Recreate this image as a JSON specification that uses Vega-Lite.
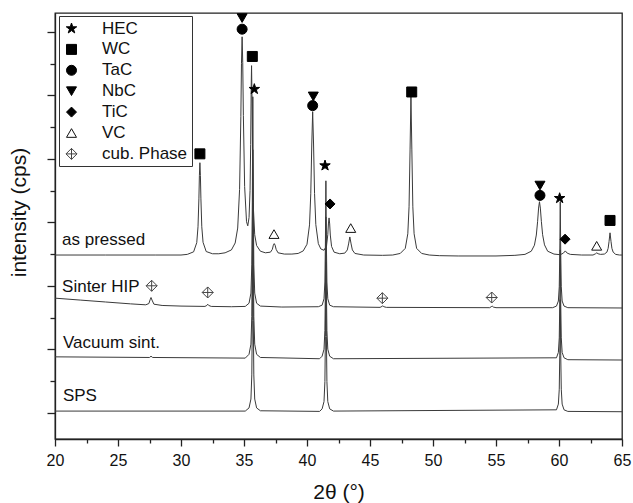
{
  "$schema": "https://vega.github.io/schema/vega-lite/v6.json",
  "width": 567,
  "height": 426,
  "autosize": {"type": "none"},
  "padding": {"left": 55, "top": 13, "right": 11, "bottom": 64},
  "config": {
    "font": "Liberation Sans",
    "view": {"stroke": "#222", "strokeWidth": 1.3},
    "axis": {"domainColor": "#222", "domainWidth": 1.3, "tickColor": "#222", "tickWidth": 1.3, "labelColor": "#111", "titleColor": "#111", "grid": false, "titleFontWeight": "normal", "labelFont": "Liberation Sans", "titleFont": "Liberation Sans"},
    "legend": {"title": null, "orient": "none", "legendX": 4, "legendY": 3, "padding": 4, "strokeColor": "#333", "fillColor": "#fff",
      "labelFontSize": 17, "labelFont": "Liberation Sans", "labelColor": "#111", "symbolSize": 100, "symbolStrokeWidth": 1,
      "symbolOffset": 0, "labelOffset": 22, "rowPadding": 2.9, "labelLimit": 200}
  },
  "datasets": {
    "xrd": [
      {"s":"a","x":20,"y":4.97},{"s":"a","x":24,"y":4.97},{"s":"a","x":28,"y":4.97},{"s":"a","x":30,"y":4.97},{"s":"a","x":30.5,"y":4.99},
      {"s":"a","x":31.0,"y":5.07},{"s":"a","x":31.25,"y":5.36},{"s":"a","x":31.35,"y":5.86},{"s":"a","x":31.42,"y":6.74},{"s":"a","x":31.46,"y":7.48},
      {"s":"a","x":31.5,"y":7.88},{"s":"a","x":31.54,"y":7.48},{"s":"a","x":31.58,"y":6.74},{"s":"a","x":31.65,"y":5.86},{"s":"a","x":31.75,"y":5.37},
      {"s":"a","x":32.0,"y":5.08},{"s":"a","x":32.5,"y":5.01},{"s":"a","x":33.0,"y":5.01},{"s":"a","x":33.5,"y":5.04},{"s":"a","x":34.0,"y":5.13},
      {"s":"a","x":34.3,"y":5.35},{"s":"a","x":34.5,"y":5.82},{"s":"a","x":34.65,"y":7.04},{"s":"a","x":34.75,"y":9.33},{"s":"a","x":34.8,"y":11.0},
      {"s":"a","x":34.85,"y":11.85},{"s":"a","x":34.9,"y":11.03},{"s":"a","x":34.95,"y":9.37},{"s":"a","x":35.05,"y":7.13},{"s":"a","x":35.2,"y":6.02},
      {"s":"a","x":35.3,"y":5.89},{"s":"a","x":35.4,"y":6.15},{"s":"a","x":35.48,"y":7.01},{"s":"a","x":35.53,"y":8.46},{"s":"a","x":35.57,"y":10.23},
      {"s":"a","x":35.6,"y":10.94},{"s":"a","x":35.64,"y":9.76},{"s":"a","x":35.68,"y":8.03},{"s":"a","x":35.75,"y":6.41},{"s":"a","x":35.85,"y":5.61},
      {"s":"a","x":36.0,"y":5.27},{"s":"a","x":36.3,"y":5.09},{"s":"a","x":36.7,"y":5.04},{"s":"a","x":37.1,"y":5.06},{"s":"a","x":37.25,"y":5.15},
      {"s":"a","x":37.33,"y":5.28},{"s":"a","x":37.4,"y":5.33},{"s":"a","x":37.47,"y":5.28},{"s":"a","x":37.55,"y":5.15},{"s":"a","x":37.7,"y":5.04},
      {"s":"a","x":38.2,"y":5.0},{"s":"a","x":38.8,"y":5.0},{"s":"a","x":39.3,"y":5.02},{"s":"a","x":39.7,"y":5.1},{"s":"a","x":40.0,"y":5.31},
      {"s":"a","x":40.2,"y":5.92},{"s":"a","x":40.3,"y":6.9},{"s":"a","x":40.38,"y":8.47},{"s":"a","x":40.45,"y":9.49},{"s":"a","x":40.52,"y":8.47},
      {"s":"a","x":40.6,"y":6.91},{"s":"a","x":40.7,"y":5.93},{"s":"a","x":40.9,"y":5.33},{"s":"a","x":41.1,"y":5.16},{"s":"a","x":41.35,"y":5.12},
      {"s":"a","x":41.55,"y":5.26},{"s":"a","x":41.65,"y":5.61},{"s":"a","x":41.7,"y":5.95},{"s":"a","x":41.75,"y":6.14},{"s":"a","x":41.8,"y":5.95},
      {"s":"a","x":41.85,"y":5.6},{"s":"a","x":41.95,"y":5.24},{"s":"a","x":42.15,"y":5.06},{"s":"a","x":42.6,"y":5.01},{"s":"a","x":43.0,"y":5.03},
      {"s":"a","x":43.2,"y":5.13},{"s":"a","x":43.3,"y":5.32},{"s":"a","x":43.4,"y":5.54},{"s":"a","x":43.5,"y":5.32},{"s":"a","x":43.6,"y":5.13},
      {"s":"a","x":43.8,"y":5.02},{"s":"a","x":44.5,"y":4.97},{"s":"a","x":46.0,"y":4.96},{"s":"a","x":46.8,"y":4.97},{"s":"a","x":47.4,"y":5.02},
      {"s":"a","x":47.8,"y":5.18},{"s":"a","x":48.0,"y":5.64},{"s":"a","x":48.1,"y":6.49},{"s":"a","x":48.18,"y":8.31},{"s":"a","x":48.25,"y":9.96},
      {"s":"a","x":48.32,"y":8.31},{"s":"a","x":48.4,"y":6.49},{"s":"a","x":48.5,"y":5.64},{"s":"a","x":48.7,"y":5.18},{"s":"a","x":49.1,"y":5.02},
      {"s":"a","x":49.7,"y":4.97},{"s":"a","x":50.5,"y":4.95},{"s":"a","x":52,"y":4.94},{"s":"a","x":55,"y":4.94},{"s":"a","x":56.5,"y":4.96},
      {"s":"a","x":57.3,"y":4.99},{"s":"a","x":57.8,"y":5.09},{"s":"a","x":58.05,"y":5.28},{"s":"a","x":58.2,"y":5.6},{"s":"a","x":58.3,"y":6.02},
      {"s":"a","x":58.38,"y":6.45},{"s":"a","x":58.45,"y":6.65},{"s":"a","x":58.52,"y":6.45},{"s":"a","x":58.6,"y":6.03},{"s":"a","x":58.7,"y":5.61},
      {"s":"a","x":58.85,"y":5.29},{"s":"a","x":59.1,"y":5.09},{"s":"a","x":59.6,"y":5.0},{"s":"a","x":60.1,"y":4.98},{"s":"a","x":60.35,"y":5.03},
      {"s":"a","x":60.5,"y":5.1},{"s":"a","x":60.65,"y":5.03},{"s":"a","x":60.9,"y":4.99},{"s":"a","x":61.8,"y":4.97},{"s":"a","x":62.7,"y":4.97},
      {"s":"a","x":62.9,"y":5.01},{"s":"a","x":63.0,"y":5.04},{"s":"a","x":63.1,"y":5.01},{"s":"a","x":63.3,"y":4.99},{"s":"a","x":63.6,"y":5.0},
      {"s":"a","x":63.8,"y":5.06},{"s":"a","x":63.9,"y":5.18},{"s":"a","x":63.97,"y":5.39},{"s":"a","x":64.05,"y":5.67},{"s":"a","x":64.13,"y":5.39},
      {"s":"a","x":64.2,"y":5.18},{"s":"a","x":64.3,"y":5.06},{"s":"a","x":64.5,"y":4.99},{"s":"a","x":64.8,"y":4.97},{"s":"a","x":65.0,"y":4.97},

      {"s":"b","x":20,"y":3.61},{"s":"b","x":22,"y":3.55},{"s":"b","x":24,"y":3.49},{"s":"b","x":26,"y":3.43},{"s":"b","x":27.2,"y":3.40},
      {"s":"b","x":27.45,"y":3.44},{"s":"b","x":27.55,"y":3.56},{"s":"b","x":27.62,"y":3.63},{"s":"b","x":27.7,"y":3.55},{"s":"b","x":27.85,"y":3.42},
      {"s":"b","x":28.5,"y":3.38},{"s":"b","x":30,"y":3.36},{"s":"b","x":31.9,"y":3.35},{"s":"b","x":32.05,"y":3.38},{"s":"b","x":32.12,"y":3.42},
      {"s":"b","x":32.2,"y":3.38},{"s":"b","x":32.4,"y":3.35},{"s":"b","x":34,"y":3.34},{"s":"b","x":35.1,"y":3.35},{"s":"b","x":35.4,"y":3.45},
      {"s":"b","x":35.55,"y":3.77},{"s":"b","x":35.62,"y":4.66},{"s":"b","x":35.66,"y":6.63},{"s":"b","x":35.7,"y":9.96},{"s":"b","x":35.74,"y":6.63},
      {"s":"b","x":35.78,"y":4.66},{"s":"b","x":35.85,"y":3.77},{"s":"b","x":36.0,"y":3.45},{"s":"b","x":36.3,"y":3.36},{"s":"b","x":38,"y":3.33},
      {"s":"b","x":40.9,"y":3.34},{"s":"b","x":41.2,"y":3.39},{"s":"b","x":41.35,"y":3.59},{"s":"b","x":41.42,"y":4.12},{"s":"b","x":41.46,"y":5.32},
      {"s":"b","x":41.5,"y":7.31},{"s":"b","x":41.54,"y":5.32},{"s":"b","x":41.58,"y":4.12},{"s":"b","x":41.65,"y":3.59},{"s":"b","x":41.8,"y":3.39},
      {"s":"b","x":42.1,"y":3.34},{"s":"b","x":45.8,"y":3.32},{"s":"b","x":45.95,"y":3.35},{"s":"b","x":46.02,"y":3.37},{"s":"b","x":46.1,"y":3.34},
      {"s":"b","x":46.3,"y":3.32},{"s":"b","x":54.5,"y":3.31},{"s":"b","x":54.62,"y":3.34},{"s":"b","x":54.7,"y":3.36},{"s":"b","x":54.78,"y":3.33},
      {"s":"b","x":55,"y":3.31},{"s":"b","x":59.5,"y":3.31},{"s":"b","x":59.8,"y":3.36},{"s":"b","x":59.95,"y":3.52},{"s":"b","x":60.02,"y":3.97},
      {"s":"b","x":60.06,"y":4.98},{"s":"b","x":60.1,"y":6.65},{"s":"b","x":60.14,"y":4.98},{"s":"b","x":60.18,"y":3.97},{"s":"b","x":60.25,"y":3.52},
      {"s":"b","x":60.4,"y":3.36},{"s":"b","x":60.7,"y":3.31},{"s":"b","x":65,"y":3.30},

      {"s":"c","x":20,"y":1.76},{"s":"c","x":27.5,"y":1.74},{"s":"c","x":27.62,"y":1.78},{"s":"c","x":27.75,"y":1.74},{"s":"c","x":35.1,"y":1.72},
      {"s":"c","x":35.4,"y":1.84},{"s":"c","x":35.55,"y":2.16},{"s":"c","x":35.62,"y":3.03},{"s":"c","x":35.66,"y":5.0},{"s":"c","x":35.7,"y":8.29},
      {"s":"c","x":35.74,"y":5.0},{"s":"c","x":35.78,"y":3.03},{"s":"c","x":35.85,"y":2.16},{"s":"c","x":36.0,"y":1.84},{"s":"c","x":36.3,"y":1.74},
      {"s":"c","x":41.0,"y":1.70},{"s":"c","x":41.2,"y":1.78},{"s":"c","x":41.35,"y":2.0},{"s":"c","x":41.42,"y":2.59},{"s":"c","x":41.46,"y":3.93},
      {"s":"c","x":41.5,"y":6.17},{"s":"c","x":41.54,"y":3.93},{"s":"c","x":41.58,"y":2.59},{"s":"c","x":41.65,"y":2.0},{"s":"c","x":41.8,"y":1.78},
      {"s":"c","x":42.1,"y":1.70},{"s":"c","x":59.8,"y":1.73},{"s":"c","x":59.95,"y":1.9},{"s":"c","x":60.02,"y":2.36},{"s":"c","x":60.06,"y":3.4},
      {"s":"c","x":60.1,"y":5.13},{"s":"c","x":60.14,"y":3.4},{"s":"c","x":60.18,"y":2.36},{"s":"c","x":60.25,"y":1.9},{"s":"c","x":60.4,"y":1.73},
      {"s":"c","x":60.7,"y":1.67},{"s":"c","x":65,"y":1.66},

      {"s":"d","x":20,"y":0.05},{"s":"d","x":35.1,"y":0.05},{"s":"d","x":35.4,"y":0.15},{"s":"d","x":35.55,"y":0.43},{"s":"d","x":35.62,"y":1.19},
      {"s":"d","x":35.66,"y":2.9},{"s":"d","x":35.7,"y":5.76},{"s":"d","x":35.74,"y":2.9},{"s":"d","x":35.78,"y":1.19},{"s":"d","x":35.85,"y":0.43},
      {"s":"d","x":36.0,"y":0.15},{"s":"d","x":36.3,"y":0.06},{"s":"d","x":41.0,"y":0.04},{"s":"d","x":41.2,"y":0.12},{"s":"d","x":41.35,"y":0.35},
      {"s":"d","x":41.42,"y":0.98},{"s":"d","x":41.46,"y":2.4},{"s":"d","x":41.5,"y":4.75},{"s":"d","x":41.54,"y":2.4},{"s":"d","x":41.58,"y":0.98},
      {"s":"d","x":41.65,"y":0.35},{"s":"d","x":41.8,"y":0.12},{"s":"d","x":42.1,"y":0.05},{"s":"d","x":59.8,"y":0.09},{"s":"d","x":59.95,"y":0.27},
      {"s":"d","x":60.02,"y":0.74},{"s":"d","x":60.06,"y":1.79},{"s":"d","x":60.1,"y":3.56},{"s":"d","x":60.14,"y":1.79},{"s":"d","x":60.18,"y":0.74},
      {"s":"d","x":60.25,"y":0.27},{"s":"d","x":60.4,"y":0.09},{"s":"d","x":60.7,"y":0.04},{"s":"d","x":65,"y":0.03}
    ],
    "markers": [
      {"p":"HEC","x":35.82,"y":10.2},{"p":"HEC","x":41.43,"y":7.79},{"p":"HEC","x":60.05,"y":6.76},
      {"p":"WC","x":31.5,"y":8.16},{"p":"WC","x":35.66,"y":11.23},{"p":"WC","x":48.31,"y":10.11},{"p":"WC","x":64.05,"y":6.06},
      {"p":"TaC","x":34.85,"y":12.09},{"p":"TaC","x":40.45,"y":9.68},{"p":"TaC","x":58.49,"y":6.85},
      {"p":"NbC","x":34.85,"y":12.44},{"p":"NbC","x":40.5,"y":9.97},{"p":"NbC","x":58.49,"y":7.16},
      {"p":"TiC","x":41.83,"y":6.58},{"p":"TiC","x":60.48,"y":5.47},
      {"p":"VC","x":37.38,"y":5.63},{"p":"VC","x":43.47,"y":5.82},{"p":"VC","x":62.99,"y":5.26},
      {"p":"cub. Phase","x":27.67,"y":4.0},{"p":"cub. Phase","x":32.12,"y":3.79},{"p":"cub. Phase","x":45.98,"y":3.61},{"p":"cub. Phase","x":54.66,"y":3.63}
    ],
    "labels": [
      {"t":"as pressed","x":20.56,"y":5.44},
      {"t":"Sinter HIP","x":20.56,"y":3.96},
      {"t":"Vacuum sint.","x":20.63,"y":2.21},
      {"t":"SPS","x":20.63,"y":0.53}
    ]
  },
  "encoding": {
    "x": {"field": "x", "type": "quantitative", "scale": {"domain": [20, 65], "nice": false, "zero": false},
      "axis": {"title": "2θ (°)", "values": [20,22.5,25,27.5,30,32.5,35,37.5,40,42.5,45,47.5,50,52.5,55,57.5,60,62.5,65],
        "labelExpr": "datum.value % 5 === 0 ? datum.label : ''", "labelFontSize": 16, "labelPadding": 6,
        "labelFlush": false, "labelOverlap": false,
        "tickSize": {"condition": {"test": "datum.value % 5 === 0", "value": 7}, "value": 4},
        "titleFontSize": 21, "titleBaseline": "alphabetic", "titleY": 59}},
    "y": {"field": "y", "type": "quantitative", "scale": {"domain": [-0.83, 12.6], "nice": false, "zero": false},
      "axis": {"title": "intensity (cps)", "values": [0,1,2,3,4,5,6,7,8,9,10,11,12], "labels": false,
        "tickSize": {"condition": {"test": "datum.value % 2 === 0", "value": 8}, "value": 5},
        "titleFontSize": 21, "titlePadding": 17, "titleY": 199}}
  },
  "layer": [
    {
      "data": {"name": "xrd"},
      "mark": {"type": "line", "color": "#3a3a3a", "strokeWidth": 1, "interpolate": "linear"},
      "encoding": {"detail": {"field": "s", "type": "nominal"}}
    },
    {
      "data": {"name": "markers"},
      "mark": {"type": "point", "filled": true, "size": 100, "strokeWidth": 1, "opacity": 1},
      "encoding": {
        "shape": {"field": "p", "type": "nominal",
          "scale": {"domain": ["HEC","WC","TaC","NbC","TiC","VC","cub. Phase"],
            "range": ["M0,-1.1L0.247,-0.34L1.046,-0.34L0.4,0.13L0.647,0.89L0,0.42L-0.647,0.89L-0.4,0.13L-1.046,-0.34L-0.247,-0.34Z","square","circle","triangle-down","diamond","triangle-up","M0,-1.1L1.1,0L0,1.1L-1.1,0ZM0,-1.1L0,1.1M-1.1,0L1.1,0"]},
          "legend": {"title": null}},
        "fill": {"field": "p", "type": "nominal",
          "scale": {"domain": ["HEC","WC","TaC","NbC","TiC","VC","cub. Phase"],
            "range": ["#000","#000","#000","#000","#000","#fff","#fff"]},
          "legend": {"title": null}},
        "stroke": {"field": "p", "type": "nominal",
          "scale": {"domain": ["HEC","WC","TaC","NbC","TiC","VC","cub. Phase"],
            "range": ["#000","#000","#000","#000","#000","#111","#444"]},
          "legend": {"title": null}}
      }
    },
    {
      "data": {"name": "labels"},
      "mark": {"type": "text", "align": "left", "baseline": "middle", "fontSize": 17, "font": "Liberation Sans", "color": "#111"},
      "encoding": {"text": {"field": "t", "type": "nominal"}}
    }
  ]
}
